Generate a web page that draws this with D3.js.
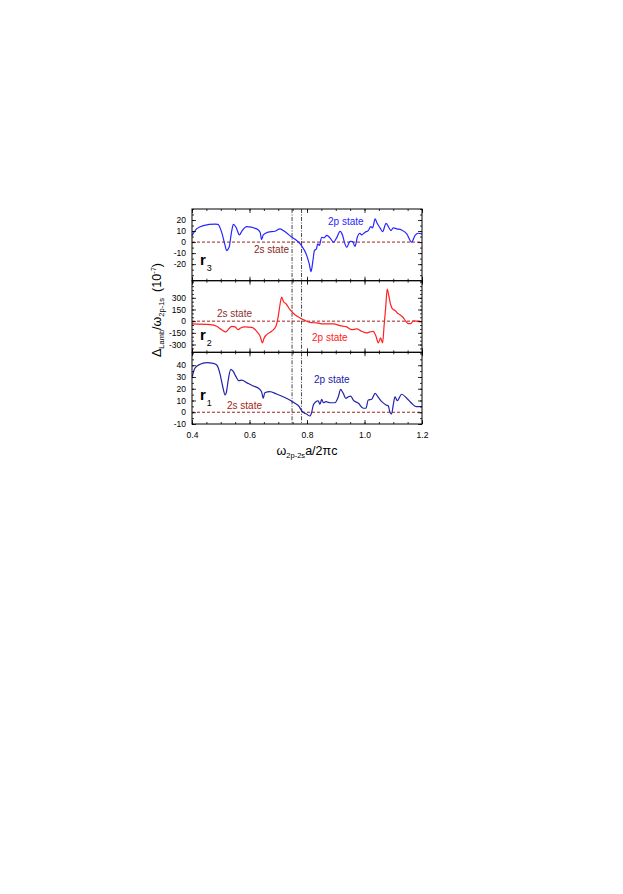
<!DOCTYPE html>
<html>
<head>
<meta charset="utf-8">
<script src="https://cdn.jsdelivr.net/npm/d3@7"></script>
<style>
html,body{margin:0;padding:0;background:#fff;}
svg{display:block;}
text{font-family:"Liberation Sans",Arial,Helvetica,sans-serif;}
</style>
</head>
<body>
<svg id="chart" width="623" height="894"></svg>
<script>
// ---------------- DATA ----------------
const xTicks = [0.4, 0.6, 0.8, 1.0, 1.2];
const vLines = [0.748, 0.781];

// r3 panel (top)
const r3X = [0.400,0.416,0.440,0.480,0.490,0.503,0.515,0.520,0.529,0.538,0.544,0.553,0.565,0.573,0.590,0.625,0.637,0.642,0.648,0.665,0.689,0.706,0.723,0.747,0.764,0.781,0.799,0.808,0.814,0.820,0.826,0.833,0.837,0.843,0.851,0.859,0.869,0.880,0.892,0.903,0.915,0.924,0.930,0.938,0.950,0.959,0.967,0.975,0.984,0.990,1.002,1.013,1.022,1.028,1.037,1.044,1.054,1.063,1.075,1.083,1.092,1.100,1.112,1.129,1.147,1.164,1.176,1.187,1.200];
const r3Y = [6,12,15,16.2,16,9,-3,-7.7,-4.7,10,16,13.5,6.5,9.8,14,12,9,2.3,6.5,9,9.8,12,9.5,4.4,1.4,-3.2,-12,-20,-26.7,-18,-7.7,-6,-1.6,-3,4.4,3.8,6,3.8,0,3.8,9.8,6,0,-4.7,0.7,0.4,-4,4.4,8,6.5,9,10.4,14,12.9,21,17,12.9,9.5,17,14,10.4,12.9,12,11,7.4,0,6,8,7.4];
const r3Ticks = [-20, -10, 0, 10, 20];

// r2 panel (middle)
const r2X = [0.400,0.463,0.486,0.503,0.517,0.526,0.538,0.550,0.561,0.569,0.584,0.608,0.625,0.637,0.645,0.651,0.660,0.677,0.692,0.700,0.706,0.712,0.718,0.727,0.741,0.758,0.776,0.793,0.810,0.834,0.857,0.892,0.915,0.938,0.956,0.973,0.990,1.007,1.019,1.030,1.040,1.048,1.056,1.063,1.068,1.074,1.079,1.085,1.091,1.098,1.106,1.114,1.123,1.133,1.144,1.152,1.161,1.170,1.187,1.200];
const r2Y = [-36,-45,-66,-109,-138,-109,-66,-74,-109,-87,-74,-79,-130,-194,-279,-215,-173,-130,-66,61,211,310,253,224,147,83,41,10,-15,-23,-36,-36,-58,-74,-109,-100,-130,-151,-138,-130,-194,-279,-215,-279,-66,190,412,317,211,156,138,105,83,54,-3,-32,-32,3,-3,-6];
const r2Ticks = [-300, -150, 0, 150, 300];

// r1 panel (bottom)
const r1X = [0.401,0.410,0.428,0.451,0.474,0.486,0.497,0.507,0.515,0.520,0.526,0.535,0.544,0.553,0.563,0.573,0.590,0.613,0.631,0.642,0.648,0.653,0.671,0.694,0.717,0.740,0.758,0.773,0.781,0.789,0.798,0.810,0.816,0.822,0.831,0.839,0.845,0.851,0.857,0.866,0.880,0.897,0.909,0.917,0.926,0.935,0.944,0.952,0.961,0.979,0.996,1.005,1.013,1.025,1.037,1.048,1.060,1.075,1.083,1.088,1.094,1.100,1.106,1.114,1.129,1.147,1.164,1.181,1.200];
const r1Y = [30.3,37.4,40.8,42.2,41.6,40.2,33.1,21.7,14.7,17.5,27.4,36.5,34.5,30.3,26.9,27.4,25.2,22.3,20.4,17.5,11.9,16.6,17.5,15.5,13.2,10.4,7.6,4.7,1.3,-0.4,-1.5,-3.2,-0.4,6.2,9,9.8,6.8,11,8.1,9,8.1,8.1,13.2,19.5,16.1,11.8,13.2,13.8,10.4,7.6,3.4,3.4,10.4,11,16.1,12.7,9,6.2,5.3,0.5,-1.5,6.2,13.2,9.8,15.3,11.9,7.6,4.7,4.7];
const r1Ticks = [-10, 0, 10, 20, 30, 40];

// ---------------- LAYOUT ----------------
const svg = d3.select("#chart");
const X0 = 192, X1 = 422;
const x = d3.scaleLinear().domain([0.4, 1.2]).range([X0, X1]);
const intFmt = d => String(d); // plain hyphen-minus like the original

const panels = [
  {xs: r3X, ys: r3Y, ticks: r3Ticks, domain: [-35, 30], minor: 5, range: [280.7, 209], color: "#2626ff", sub: "3",
   label: {x: 200, y: 265},
   texts: [{t: "2p state", x: 328, y: 225, c: "#2626ff"}, {t: "2s state", x: 254, y: 253, c: "#8b1f1f"}]},
  {xs: r2X, ys: r2Y, ticks: r2Ticks, domain: [-400, 520], minor: 50, range: [352.3, 280.7], color: "#ff2020", sub: "2",
   label: {x: 200, y: 340},
   texts: [{t: "2s state", x: 217, y: 316.5, c: "#8b3030"}, {t: "2p state", x: 312, y: 340.5, c: "#ff2020"}]},
  {xs: r1X, ys: r1Y, ticks: r1Ticks, domain: [-10, 51], minor: 5, range: [424, 352.3], color: "#2222aa", sub: "1",
   label: {x: 200, y: 400},
   texts: [{t: "2p state", x: 314, y: 383, c: "#2222aa"}, {t: "2s state", x: 227, y: 409, c: "#a82020"}]}
];

const xMinor = d3.range(0.4, 1.2001, 0.05);

panels.forEach((p, i) => {
  const y = d3.scaleLinear().domain(p.domain).range(p.range);
  const g = svg.append("g");
  const top = p.range[1], bot = p.range[0];

  // zero dashed line
  g.append("line").attr("x1", X0).attr("x2", X1).attr("y1", y(0)).attr("y2", y(0))
    .attr("stroke", "#a02020").attr("stroke-width", 1).attr("stroke-dasharray", "3,2");

  // vertical dash-dot lines
  vLines.forEach(v => {
    g.append("line").attr("x1", x(v)).attr("x2", x(v)).attr("y1", top).attr("y2", bot)
      .attr("stroke", "#333").attr("stroke-width", 0.9).attr("stroke-dasharray", "4,1.5,1,1.5");
  });

  // curve
  const pts = p.xs.map((v, k) => [v, p.ys[k]]);
  g.append("path").datum(pts)
    .attr("d", d3.line().x(d => x(d[0])).y(d => y(d[1])).curve(d3.curveMonotoneX))
    .attr("fill", "none").attr("stroke", p.color).attr("stroke-width", 1.2);

  // minor y ticks
  const yMinor = d3.range(Math.ceil(p.domain[0] / p.minor) * p.minor, p.domain[1] + 0.001, p.minor);
  g.append("g").attr("transform", `translate(${X0},0)`)
    .call(d3.axisLeft(y).tickValues(yMinor).tickSize(-2).tickFormat(""));
  g.append("g").attr("transform", `translate(${X1},0)`)
    .call(d3.axisRight(y).tickValues(yMinor).tickSize(-2).tickFormat(""));

  // major y ticks
  g.append("g").attr("transform", `translate(${X0},0)`)
    .call(d3.axisLeft(y).tickValues(p.ticks).tickSize(-4).tickPadding(6).tickFormat(intFmt));
  g.append("g").attr("transform", `translate(${X1},0)`)
    .call(d3.axisRight(y).tickValues(p.ticks).tickSize(-4).tickFormat(""));

  // x ticks top and bottom of panel
  g.append("g").attr("transform", `translate(0,${top})`)
    .call(d3.axisTop(x).tickValues(xMinor).tickSize(-2).tickFormat(""));
  g.append("g").attr("transform", `translate(0,${bot})`)
    .call(d3.axisBottom(x).tickValues(xMinor).tickSize(-2).tickFormat(""));
  g.append("g").attr("transform", `translate(0,${top})`)
    .call(d3.axisTop(x).tickValues(xTicks).tickSize(-4).tickFormat(""));
  g.append("g").attr("transform", `translate(0,${bot})`)
    .call(d3.axisBottom(x).tickValues(xTicks).tickSize(-4).tickPadding(8)
      .tickFormat(i === 2 ? d3.format(".1f") : ""));

  // frame
  g.append("rect").attr("x", X0).attr("y", top).attr("width", X1 - X0).attr("height", bot - top)
    .attr("fill", "none").attr("stroke", "#000").attr("stroke-width", 1);

  // panel label r_n
  const lt = g.append("text").attr("x", p.label.x).attr("y", p.label.y).attr("fill", "#000");
  lt.append("tspan").attr("font-size", 15).attr("font-weight", "bold").text("r");
  lt.append("tspan").attr("font-size", 9).attr("dy", 6).attr("dx", 1).text(p.sub);

  // state texts
  p.texts.forEach(t => {
    g.append("text").attr("x", t.x).attr("y", t.y).attr("font-size", 10).attr("fill", t.c).text(t.t);
  });
});

// style axes
svg.selectAll(".domain").attr("stroke", "none");
svg.selectAll(".tick line").attr("stroke", "#000").attr("stroke-width", 0.8);
svg.selectAll(".tick text").attr("font-size", 8.5).attr("fill", "#000")
  .attr("font-family", "'Liberation Sans',Arial,sans-serif");

// x axis label
const xl = svg.append("text").attr("x", 307).attr("y", 455).attr("text-anchor", "middle")
  .attr("font-size", 12.5).attr("fill", "#000");
xl.append("tspan").text("ω");
xl.append("tspan").attr("font-size", 7.5).attr("dy", 3).text("2p-2s");
xl.append("tspan").attr("dy", -3).text("a/2πc");

// y axis label
const yl = svg.append("text").attr("transform", "translate(161,310) rotate(-90)")
  .attr("text-anchor", "middle").attr("font-size", 12.5).attr("fill", "#000");
yl.append("tspan").text("Δ");
yl.append("tspan").attr("font-size", 7.5).attr("dy", 3).text("Lamb");
yl.append("tspan").attr("dy", -3).text("/ω");
yl.append("tspan").attr("font-size", 7.5).attr("dy", 3).text("2p-1s");
yl.append("tspan").attr("dy", -3).attr("dx", 6).text("(10");
yl.append("tspan").attr("font-size", 7.5).attr("dy", -5).text("-7");
yl.append("tspan").attr("dy", 5).text(")");
</script>
</body>
</html>
